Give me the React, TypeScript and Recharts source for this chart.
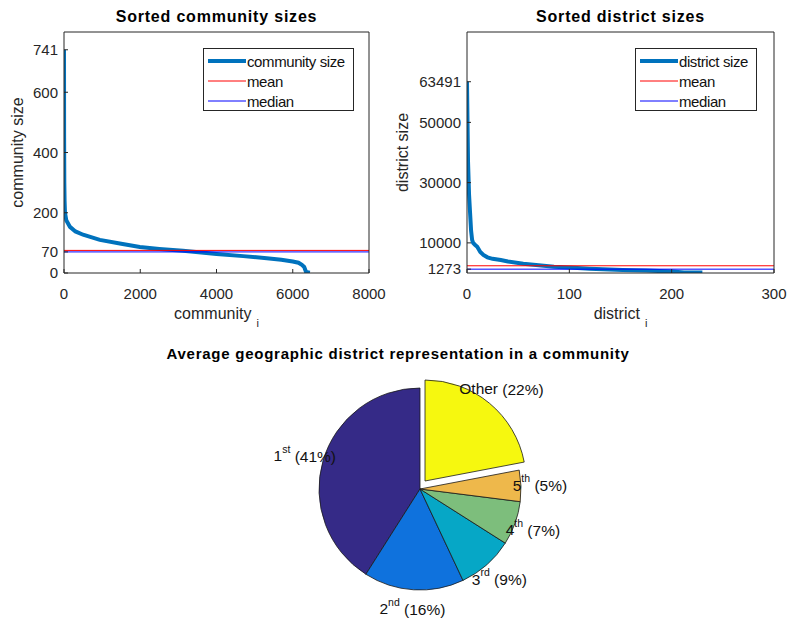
import { Cell, Legend, Line, LineChart, Pie, PieChart, XAxis, YAxis } from "recharts";

const FONT = '"Liberation Sans", Arial, Helvetica, sans-serif';
const INK = "#262626";
const CURVE = "#0072bd";
const RADIAN = Math.PI / 180;

// sorted community sizes
const communityIndex = [0, 3, 8, 15, 26, 60, 157, 300, 500, 940, 1500, 1990, 2500, 3120, 3600, 4000, 4700, 5320, 5700, 6000, 6150, 6240, 6300, 6330, 6350, 6450];
const communitySize = [741, 450, 300, 240, 200, 175, 153, 138, 127, 110, 97, 86, 80, 74, 68, 63, 56, 49, 44, 38, 34, 27, 20, 10, 3, 1];
const communityMean = 75;
const communityMedian = 70;
const communityXTicks = [0, 2000, 4000, 6000, 8000];
const communityYTicks = [0, 70, 200, 400, 600, 741];

// sorted district sizes
const districtIndex = [0, 1, 2, 3, 4, 5, 6, 8, 10, 13, 16, 20, 25, 33, 40, 55, 70, 85, 100, 120, 152, 175, 201, 212, 230];
const districtSize = [63491, 37000, 26000, 20000, 14000, 11000, 10000, 9300, 8700, 7000, 6000, 5200, 4700, 4300, 3800, 3100, 2600, 2100, 1800, 1400, 1000, 800, 500, 200, 150];
const districtMean = 2400;
const districtMedian = 1273;
const districtXTicks = [0, 100, 200, 300];
const districtYTicks = [1273, 10000, 30000, 50000, 63491];

// pie
const pieNames = ["1", "2", "3", "4", "5", "Other"];
const pieSuffix = ["st", "nd", "rd", "th", "th", ""];
const pieShares = [41, 16, 9, 7, 5, 22];
const pieColors = ["#352a87", "#0f72dd", "#06a7c6", "#7dbe7c", "#eeb84b", "#f6f80f"];

const pieData = pieNames.map((name, i) => ({ name, suffix: pieSuffix[i], share: pieShares[i] }));

function toSeries(xs: number[], ys: number[]) {
  return xs.map((x, i) => ({ idx: x, size: ys[i] }));
}

function flat(value: number, xMax: number) {
  return [
    { idx: 0, size: value },
    { idx: xMax, size: value }
  ];
}

function YLabel({ viewBox, text, posX }: any) {
  const y = viewBox ? viewBox.y + viewBox.height / 2 : 152;
  return (
    <text x={posX} y={y} transform={`rotate(-90 ${posX} ${y})`} textAnchor="middle" dominantBaseline="central" fill={INK} fontSize={16} fontFamily={FONT}>
      {text}
    </text>
  );
}

function XLabel({ viewBox, text, posY }: any) {
  const x = viewBox ? viewBox.x + viewBox.width / 2 : 216;
  return (
    <text x={x} y={posY} textAnchor="middle" dominantBaseline="central" fill={INK} fontSize={16} fontFamily={FONT}>
      {text}
      <tspan dx={5} dy={10} fontSize={11}>i</tspan>
    </text>
  );
}

function LegendBox({ items }: { items: { name: string; color: string; width: number }[] }) {
  return (
    <div style={{ border: `1px solid ${INK}`, background: "#fff", height: 63, boxSizing: "border-box", paddingTop: 2 }}>
      {items.map((item) => (
        <div key={item.name} style={{ display: "flex", alignItems: "center", height: 20 }}>
          <svg width={43} height={20} style={{ flex: "none" }}>
            <line x1={4} x2={42} y1={10} y2={10} stroke={item.color} strokeWidth={item.width} />
          </svg>
          <span style={{ fontSize: 15, fontFamily: FONT, color: "#111", whiteSpace: "nowrap", letterSpacing: -0.4 }}>{item.name}</span>
        </div>
      ))}
    </div>
  );
}

interface SortedChartProps {
  left: number;
  width: number;
  yAxisWidth: number;
  marginLeft: number;
  marginRight: number;
  data: { idx: number; size: number }[];
  mean: number;
  median: number;
  xMax: number;
  yMax: number;
  xTicks: number[];
  yTicks: number[];
  seriesName: string;
  yLabel: string;
  yLabelX: number;
  xLabel: string;
  legendLeft: number;
  legendWidth: number;
}

function SortedChart(p: SortedChartProps) {
  const legendItems = [
    { name: p.seriesName, color: CURVE, width: 4 },
    { name: "mean", color: "#ff0000", width: 1 },
    { name: "median", color: "#0000ff", width: 1 }
  ];
  const tickStyle = { fill: INK, fontSize: 15, fontFamily: FONT };

  return (
    <div style={{ position: "absolute", left: p.left, top: 0 }}>
      <LineChart width={p.width} height={340} margin={{ top: 31, right: p.marginRight - 1, bottom: 37, left: p.marginLeft }}>
        <XAxis
          type="number"
          dataKey="idx"
          domain={[0, p.xMax]}
          ticks={p.xTicks}
          interval={0}
          allowDataOverflow
          height={30}
          tickSize={-4}
          tickMargin={19}
          stroke={INK}
          tick={tickStyle}
          label={<XLabel text={p.xLabel} posY={313} />}
        />
        <XAxis xAxisId="top" orientation="top" type="number" dataKey="idx" domain={[0, p.xMax]} ticks={p.xTicks} interval={0} allowDataOverflow height={1} tickSize={-4} tick={false} stroke={INK} />
        <YAxis
          type="number"
          domain={[0, p.yMax]}
          ticks={p.yTicks}
          interval={0}
          allowDataOverflow
          width={p.yAxisWidth}
          tickSize={-4}
          tickMargin={10}
          stroke={INK}
          tick={tickStyle}
          label={<YLabel text={p.yLabel} posX={p.yLabelX} />}
        />
        <YAxis yAxisId="right" orientation="right" type="number" domain={[0, p.yMax]} ticks={p.yTicks} interval={0} allowDataOverflow width={1} tickSize={-4} tick={false} stroke={INK} />
        <Line data={p.data} dataKey="size" name={p.seriesName} stroke={CURVE} strokeWidth={4} dot={false} type="linear" isAnimationActive={false} />
        <Line data={flat(p.mean, p.xMax)} dataKey="size" name="mean" stroke="#ff0000" strokeWidth={1} dot={false} type="linear" isAnimationActive={false} />
        <Line
          data={flat(p.median, p.xMax)}
          dataKey="size"
          name="median"
          xAxisId="top"
          yAxisId="right"
          stroke="#0000ff"
          strokeWidth={1}
          dot={false}
          type="linear"
          isAnimationActive={false}
        />
        <Legend
          layout="vertical"
          align="center"
          verticalAlign="middle"
          wrapperStyle={{ position: "absolute", left: p.legendLeft, top: 48, width: p.legendWidth, height: 64 }}
          content={() => <LegendBox items={legendItems} />}
        />
      </LineChart>
    </div>
  );
}

function PieLabel(props: any, show: (index: number) => boolean) {
  const { cx, cy, midAngle, index } = props;
  if (!show(index)) return null;
  const r = 120;
  const x = cx + r * Math.cos(-midAngle * RADIAN);
  const y = cy + r * Math.sin(-midAngle * RADIAN);
  const entry = pieData[index];
  return (
    <text x={x} y={y} textAnchor="middle" dominantBaseline="central" fill="#111" fontSize={15.5} fontFamily={FONT}>
      {entry.name}
      {entry.suffix ? (
        <tspan dy={-7} fontSize={10.5}>{entry.suffix}</tspan>
      ) : null}
      <tspan dy={entry.suffix ? 7 : 0}>{` (${entry.share}%)`}</tspan>
    </text>
  );
}

const titleStyle = {
  position: "absolute" as const,
  height: 20,
  lineHeight: "20px",
  fontFamily: FONT,
  fontWeight: 700,
  fontSize: 16,
  color: "#000",
  textAlign: "center" as const,
  whiteSpace: "nowrap" as const
};

export default function App() {
  const otherIndex = pieNames.length - 1;
  return (
    <div style={{ position: "absolute", left: 0, top: 0, width: 787, height: 624, background: "#fff", overflow: "hidden" }}>
      <div style={{ ...titleStyle, left: 64, width: 305, top: 7, letterSpacing: 0.8 }}>Sorted community sizes</div>
      <div style={{ ...titleStyle, left: 467, width: 307, top: 7, letterSpacing: 0.8 }}>Sorted district sizes</div>
      <div style={{ ...titleStyle, left: 100, width: 596, top: 344, fontSize: 15, letterSpacing: 0.75 }}>
        Average geographic district representation in a community
      </div>

      <SortedChart
        left={0}
        width={390}
        yAxisWidth={40}
        marginLeft={24}
        marginRight={21}
        data={toSeries(communityIndex, communitySize)}
        mean={communityMean}
        median={communityMedian}
        xMax={8000}
        yMax={800}
        xTicks={communityXTicks}
        yTicks={communityYTicks}
        seriesName="community size"
        yLabel="community size"
        yLabelX={17}
        xLabel="community"
        legendLeft={203}
        legendWidth={151}
      />
      <SortedChart
        left={390}
        width={397}
        yAxisWidth={50}
        marginLeft={27}
        marginRight={13}
        data={toSeries(districtIndex, districtSize)}
        mean={districtMean}
        median={districtMedian}
        xMax={300}
        yMax={80000}
        xTicks={districtXTicks}
        yTicks={districtYTicks}
        seriesName="district size"
        yLabel="district size"
        yLabelX={12}
        xLabel="district"
        legendLeft={245}
        legendWidth={122}
      />

      <div style={{ position: "absolute", left: 0, top: 340 }}>
        <PieChart width={787} height={284} margin={{ top: 0, right: 0, bottom: 0, left: 0 }}>
          <Pie
            data={pieData}
            dataKey="share"
            cx={420}
            cy={149}
            outerRadius={101}
            startAngle={90}
            endAngle={450}
            labelLine={false}
            label={(props: any) => PieLabel(props, (i) => i !== otherIndex)}
            isAnimationActive={false}
          >
            {pieData.map((entry, i) => (
              <Cell
                key={entry.name}
                fill={i === otherIndex ? "none" : pieColors[i]}
                stroke={i === otherIndex ? "none" : "#1a1a1a"}
                strokeWidth={0.8}
              />
            ))}
          </Pie>
          <Pie
            data={pieData}
            dataKey="share"
            cx={425}
            cy={141}
            outerRadius={101}
            startAngle={90}
            endAngle={450}
            labelLine={false}
            label={(props: any) => PieLabel(props, (i) => i === otherIndex)}
            isAnimationActive={false}
          >
            {pieData.map((entry, i) => (
              <Cell
                key={entry.name}
                fill={i === otherIndex ? pieColors[i] : "none"}
                stroke={i === otherIndex ? "#1a1a1a" : "none"}
                strokeWidth={0.8}
              />
            ))}
          </Pie>
        </PieChart>
      </div>
    </div>
  );
}
